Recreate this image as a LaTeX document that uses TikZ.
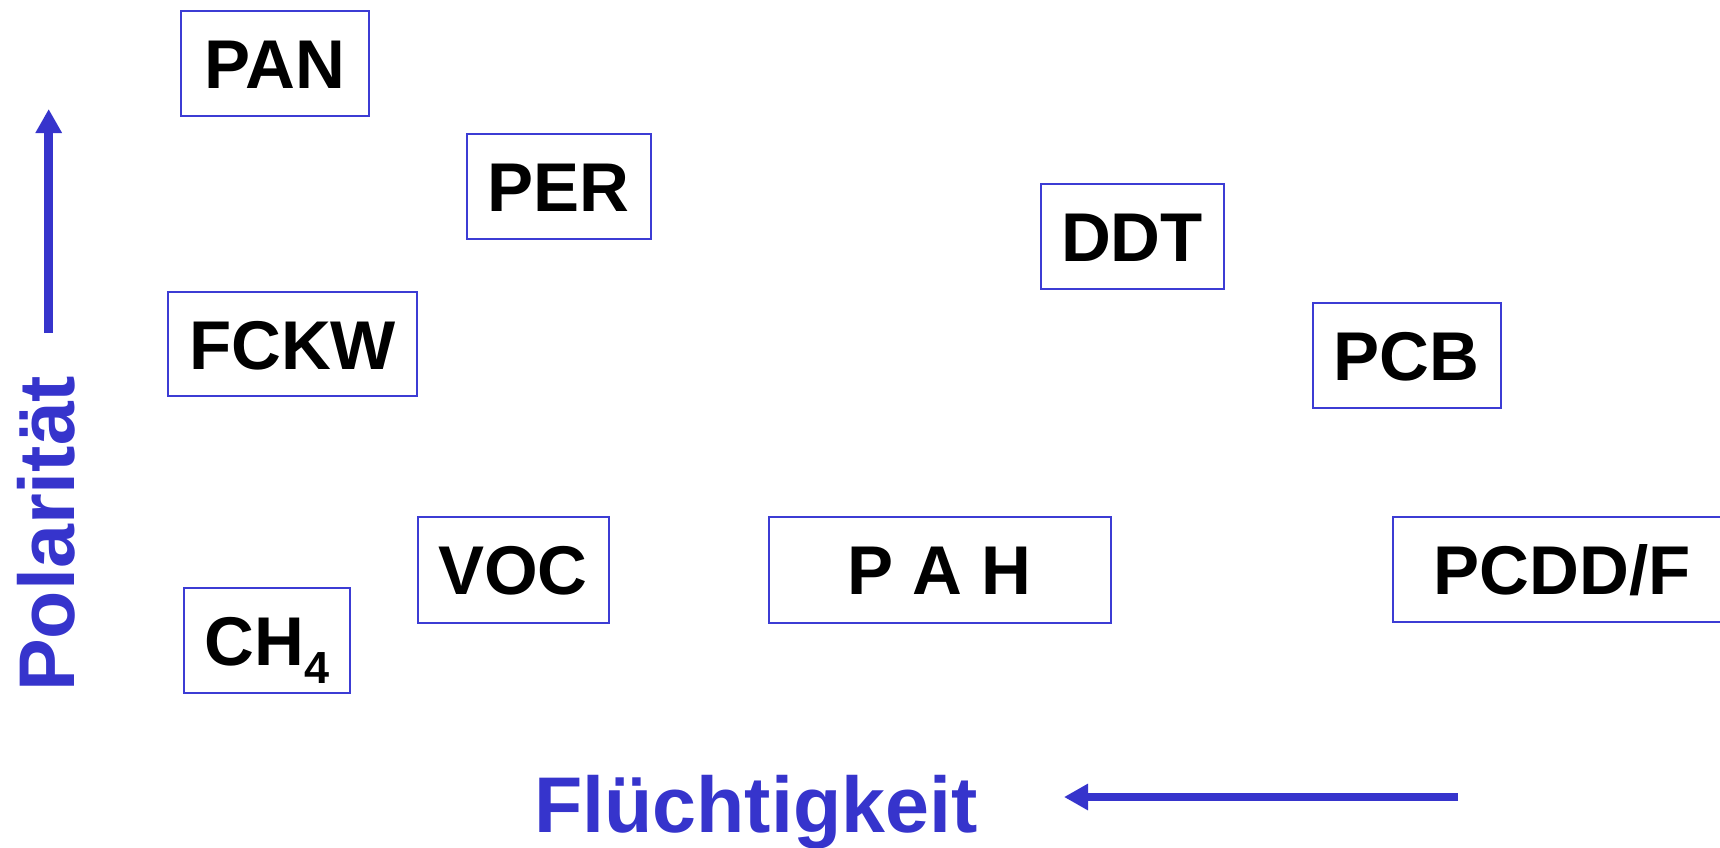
\documentclass[tikz,border=0pt]{standalone}
\usepackage{fontspec}
\setmainfont{Liberation Sans}
\usetikzlibrary{arrows.meta}
\definecolor{axisblue}{RGB}{54,52,204}
\definecolor{boxblue}{RGB}{60,60,212}
\begin{document}
\begin{tikzpicture}[x=1pt,y=-1pt,
  cbox/.style={draw=boxblue, line width=2pt, inner sep=0pt,
    font=\fontsize{69}{80}\selectfont\bfseries,
    text height=50pt, text depth=0pt, align=center},
  axislabel/.style={text=axisblue, inner sep=0pt,
    font=\fontsize{79}{90}\selectfont\bfseries},
  axisarrow/.style={draw=axisblue, line width=8.5pt,
    -{Triangle[length=24pt,width=25pt]}}]
\useasboundingbox (0,0) rectangle (1720,847);
\clip (0,0) rectangle (1720,847);

% substance boxes
\node[cbox, minimum width=188pt, minimum height=105pt] (pan)  at (275,63.5)   {PAN};
\node[cbox, minimum width=184pt, minimum height=105pt] (per)  at (558.5,186)  {PER};
\node[cbox, minimum width=183pt, minimum height=105pt] (ddt)  at (1132,236.5) {DDT};
\node[cbox, minimum width=249pt, minimum height=104pt] (fckw) at (292.5,344)  {FCKW};
\node[cbox, minimum width=188pt, minimum height=105pt] (pcb)  at (1406.5,355.5) {PCB};
\node[cbox, minimum width=191pt, minimum height=106pt] (voc)  at (513,569.5)  {VOC};
\node[cbox, minimum width=342pt, minimum height=106pt] (pah)  at (939.5,569.5) {P A H};
\node[cbox, minimum width=338pt, minimum height=105pt] (pcdd) at (1562,569.5) {PCDD/F};
\node[cbox, minimum width=166pt, minimum height=105pt] (ch4)  at (267,640.5)
  {CH\raisebox{-18pt}{\fontsize{45}{45}\selectfont 4}};

% axis labels
\node[axislabel, rotate=90, anchor=base west] (pol) at (74,692) {Polarität};
\node[axislabel, anchor=base west] (flu) at (534,832) {Flüchtigkeit};

% axis arrows
\coordinate (polfrom) at (48.7,333);
\coordinate (polto)   at (48.7,109);
\coordinate (flufrom) at (1458,797);
\coordinate (fluto)   at (1064,797);
\draw[axisarrow] (polfrom) -- (polto);
\draw[axisarrow] (flufrom) -- (fluto);
\end{tikzpicture}
\end{document}
